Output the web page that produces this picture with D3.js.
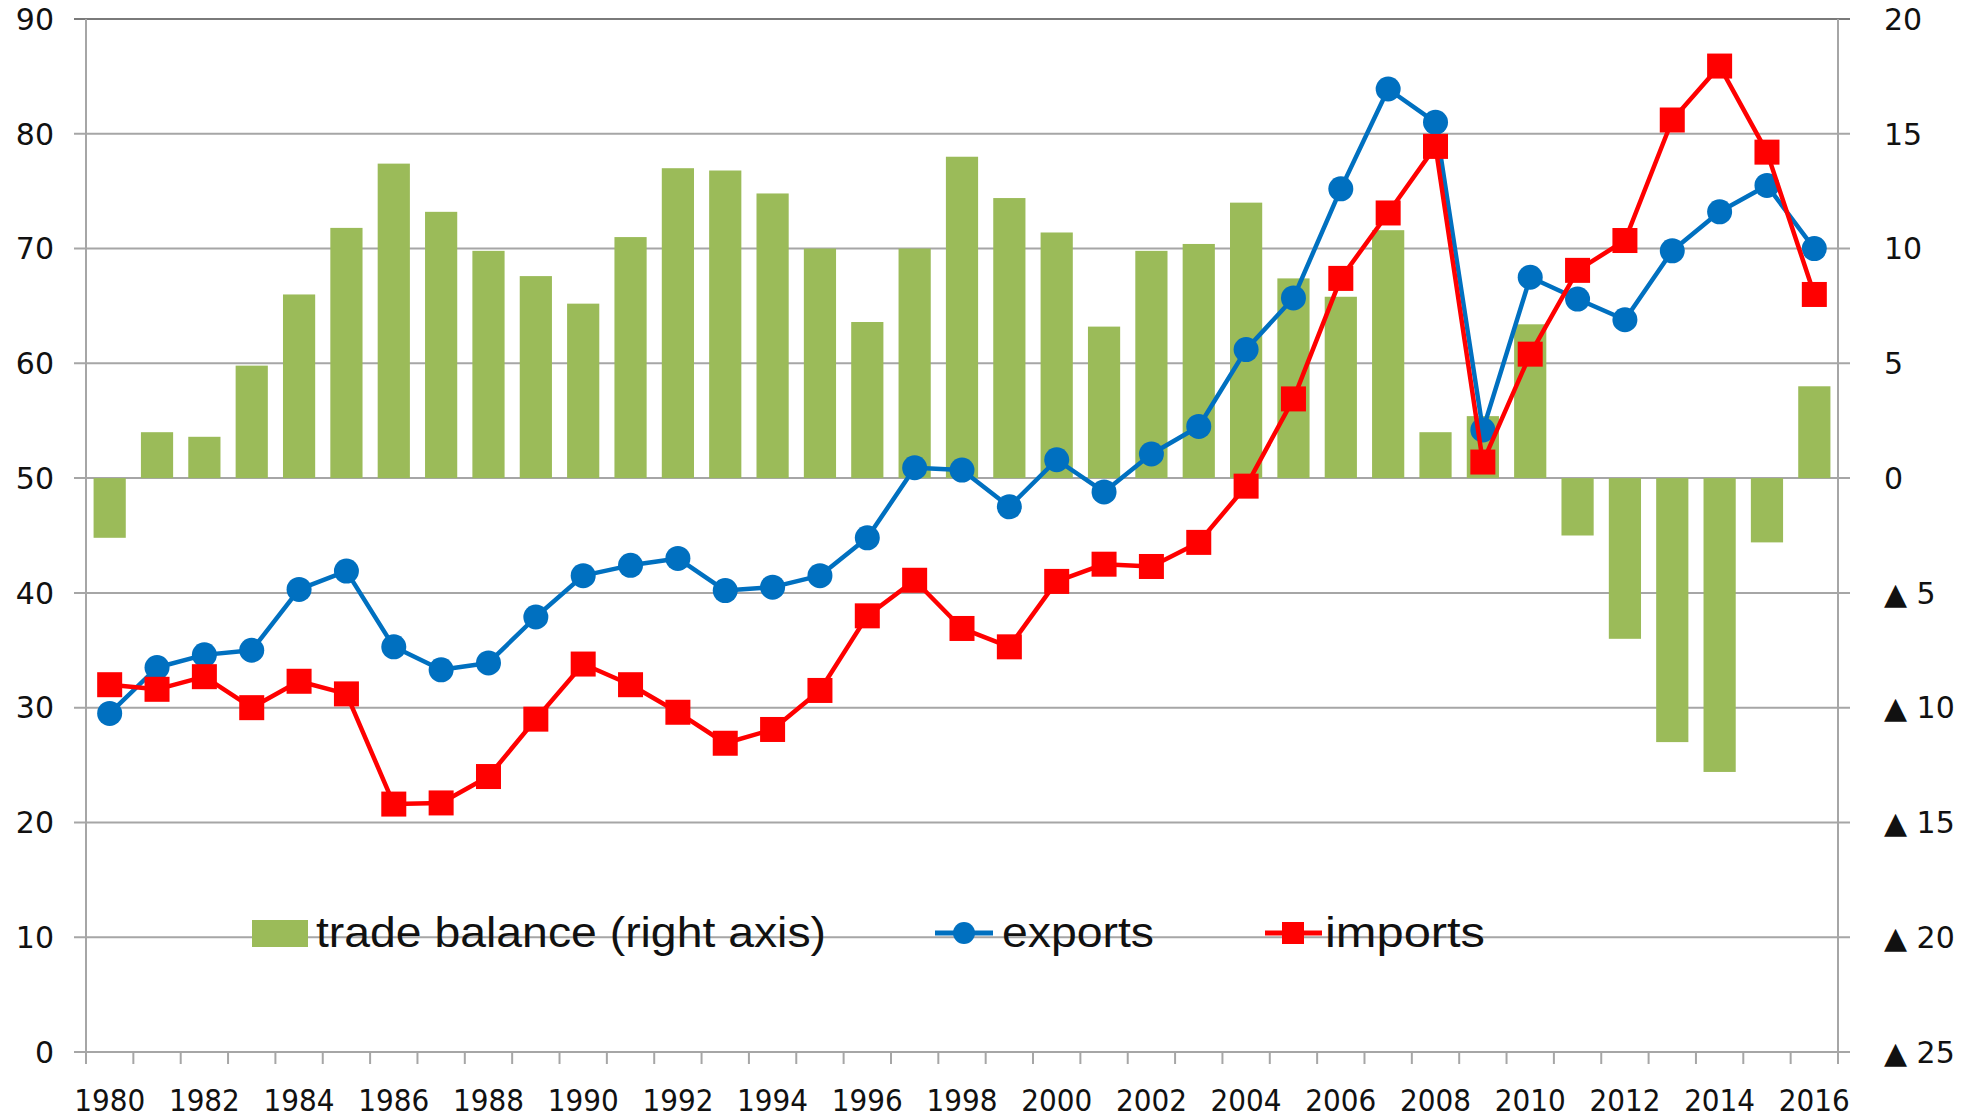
<!DOCTYPE html>
<html>
<head>
<meta charset="utf-8">
<script src="https://d3js.org/d3.v7.min.js"></script>
<style>
  body { margin: 0; background: #fff; }
  svg { display: block; }
</style>
</head>
<body>
<svg id="chart" width="1977" height="1120"></svg>
<script>
// data
const years = d3.range(1980, 2017);
const exportsVals = [29.5, 33.5, 34.6, 35.0, 40.3, 41.9, 35.3, 33.3, 33.9, 37.9,
  41.5, 42.4, 43.0, 40.2, 40.5, 41.5, 44.8, 50.9, 50.7, 47.5,
  51.6, 48.8, 52.1, 54.5, 61.2, 65.7, 75.2, 83.9, 81.0, 54.2,
  67.5, 65.6, 63.8, 69.8, 73.2, 75.5, 70.0];
const importsVals = [32.0, 31.6, 32.7, 30.0, 32.3, 31.2, 21.6, 21.7, 24.0, 29.0,
  33.8, 32.0, 29.6, 26.9, 28.1, 31.5, 38.0, 41.1, 36.9, 35.3,
  41.0, 42.5, 42.3, 44.4, 49.3, 56.9, 67.4, 73.1, 78.9, 51.4,
  60.8, 68.1, 70.7, 81.2, 85.9, 78.4, 66.0];
const balanceVals = [-2.6, 2.0, 1.8, 4.9, 8.0, 10.9, 13.7, 11.6, 9.9, 8.8,
  7.6, 10.5, 13.5, 13.4, 12.4, 10.0, 6.8, 10.0, 14.0, 12.2,
  10.7, 6.6, 9.9, 10.2, 12.0, 8.7, 7.9, 10.8, 2.0, 2.7,
  6.7, -2.5, -7.0, -11.5, -12.8, -2.8, 4.0];
const leftTicks = d3.range(0, 91, 10);
const rightTicks = d3.range(-25, 21, 5);
const legendItems = ["trade balance (right axis)", "exports", "imports"];

const GREEN = "#9bbb59", BLUE = "#0070c0", RED = "#ff0000", GRID = "#a6a6a6";

const svg = d3.select("#chart");
const margin = {top: 19, right: 139, bottom: 68, left: 86};
const W = 1977, H = 1120;
const x0 = margin.left, x1 = W - margin.right, yTop = margin.top, yBot = H - margin.bottom;

const x = d3.scaleBand().domain(years).range([x0, x1]).padding(0);
const cx = d => x(d) + x.bandwidth() / 2;
const yL = d3.scaleLinear().domain([0, 90]).range([yBot, yTop]);
const yR = d3.scaleLinear().domain([-25, 20]).range([yBot, yTop]);

// gridlines
svg.append("g").selectAll("line")
  .data(leftTicks)
  .enter().append("line")
  .attr("x1", x0 - 12).attr("x2", x1 + 12)
  .attr("y1", d => yL(d)).attr("y2", d => yL(d))
  .attr("stroke", d => d == 90 ? "#7a7a7a" : GRID)
  .attr("stroke-width", 2);

// bars (right axis)
const barW = x.bandwidth() * 0.68;
svg.append("g").selectAll("rect")
  .data(years)
  .enter().append("rect")
  .attr("x", (d) => cx(d) - barW / 2)
  .attr("width", barW)
  .attr("y", (d, i) => Math.min(yR(balanceVals[i]), yR(0)))
  .attr("height", (d, i) => Math.abs(yR(balanceVals[i]) - yR(0)))
  .attr("fill", GREEN);

// axes lines and ticks
const axisG = svg.append("g").attr("stroke", GRID).attr("stroke-width", 2);
axisG.append("line").attr("x1", x0).attr("x2", x0).attr("y1", yTop).attr("y2", yBot + 12);
axisG.append("line").attr("x1", x1).attr("x2", x1).attr("y1", yTop).attr("y2", yBot + 12);
axisG.selectAll(".xt")
  .data(years.slice(1))
  .enter().append("line")
  .attr("x1", d => x(d)).attr("x2", d => x(d))
  .attr("y1", yBot).attr("y2", yBot + 12);

// x labels, every second year
svg.append("g").selectAll("text")
  .data(years.filter(d => d % 2 == 0))
  .enter().append("text")
  .attr("x", d => cx(d))
  .attr("y", yBot + 59)
  .attr("text-anchor", "middle")
  .style("font-family", "'Liberation Sans Narrow', 'DejaVu Sans Condensed', sans-serif")
  .style("font-size", "31px")
  .attr("fill", "#111")
  .text(d => d);

// left labels
svg.append("g").selectAll("text")
  .data(leftTicks)
  .enter().append("text")
  .attr("x", 54)
  .attr("y", d => yL(d))
  .attr("dy", "0.36em")
  .attr("text-anchor", "end")
  .style("font-family", "'DejaVu Sans', sans-serif")
  .style("font-size", "30px")
  .attr("fill", "#111")
  .text(d => d);

// right labels (negatives shown with a triangle)
svg.append("g").selectAll("text")
  .data(rightTicks)
  .enter().append("text")
  .attr("x", 1884)
  .attr("y", d => yR(d))
  .attr("dy", "0.36em")
  .style("font-family", "'DejaVu Sans', sans-serif")
  .style("font-size", "30px")
  .attr("fill", "#111")
  .text(d => d < 0 ? "\u25B2 " + Math.abs(d) : d);

// lines
const line = d3.line().x(d => cx(d[0])).y(d => yL(d[1]));
const expData = years.map((y, i) => [y, exportsVals[i]]);
const impData = years.map((y, i) => [y, importsVals[i]]);

svg.append("path").datum(expData)
  .attr("d", line).attr("fill", "none")
  .attr("stroke", BLUE).attr("stroke-width", 4.5).attr("stroke-linejoin", "round");
svg.append("g").selectAll("circle")
  .data(expData)
  .enter().append("circle")
  .attr("cx", d => cx(d[0])).attr("cy", d => yL(d[1]))
  .attr("r", 12.5).attr("fill", BLUE);

svg.append("path").datum(impData)
  .attr("d", line).attr("fill", "none")
  .attr("stroke", RED).attr("stroke-width", 4.5).attr("stroke-linejoin", "round");
var sq = 25;
svg.append("g").selectAll("rect")
  .data(impData)
  .enter().append("rect")
  .attr("x", d => cx(d[0]) - sq / 2).attr("y", d => yL(d[1]) - sq / 2)
  .attr("width", sq).attr("height", sq).attr("fill", RED);

// legend
const leg = svg.append("g").attr("transform", "translate(0,933)");
const legFont = "'Liberation Sans', Arial, sans-serif";
leg.append("rect").attr("x", 252).attr("y", -13).attr("width", 56).attr("height", 27).attr("fill", GREEN);
leg.append("line").attr("x1", 935).attr("x2", 993).attr("y1", 0).attr("y2", 0)
  .attr("stroke", BLUE).attr("stroke-width", 5);
leg.append("circle").attr("cx", 964).attr("cy", 0).attr("r", 11).attr("fill", BLUE);
leg.append("line").attr("x1", 1265).attr("x2", 1322).attr("y1", 0).attr("y2", 0)
  .attr("stroke", RED).attr("stroke-width", 5);
leg.append("rect").attr("x", 1282).attr("y", -11).attr("width", 22).attr("height", 22).attr("fill", RED);

const legPos = [[316, 510], [1002, 152], [1325, 160]];
leg.selectAll("text")
  .data(legendItems)
  .enter().append("text")
  .attr("x", (d, i) => legPos[i][0])
  .attr("y", 14)
  .attr("textLength", (d, i) => legPos[i][1])
  .attr("lengthAdjust", "spacingAndGlyphs")
  .style("font-family", legFont)
  .style("font-size", "42px")
  .attr("fill", "#111")
  .text(d => d);
</script>
</body>
</html>
